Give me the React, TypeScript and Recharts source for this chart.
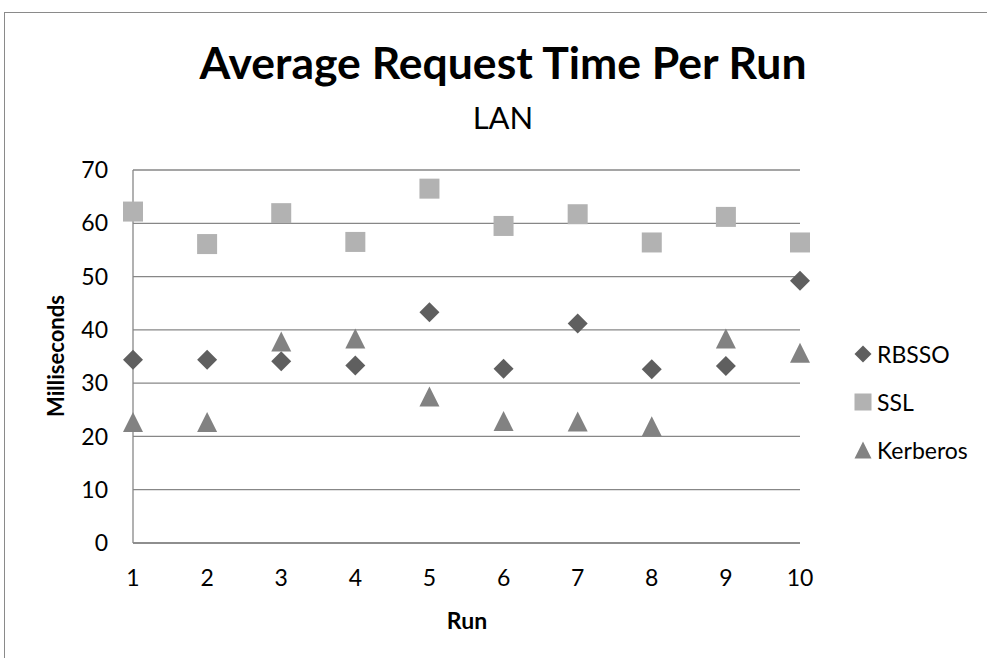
import React from 'react';
import { ScatterChart, Scatter, XAxis, YAxis, CartesianGrid, Legend } from 'recharts';

// values
const runs = [1, 2, 3, 4, 5, 6, 7, 8, 9, 10];
const rbsso = [34.4, 34.4, 34.1, 33.3, 43.3, 32.7, 41.2, 32.6, 33.2, 49.2];
const ssl = [62.2, 56.1, 61.9, 56.5, 66.5, 59.5, 61.7, 56.4, 61.2, 56.4];
const kerberos = [22.7, 22.7, 37.8, 38.4, 27.5, 22.9, 22.8, 21.9, 38.4, 35.7];
const yTicks = [0, 10, 20, 30, 40, 50, 60, 70];

const FONT = 'Lato, "Open Sans", sans-serif';
const GRID = '#878787';
const COLORS = { RBSSO: '#5f5f5f', SSL: '#b2b2b2', Kerberos: '#828282' };

const toPoints = (vals: number[]) => runs.map((run, i) => ({ run, ms: vals[i] }));

const Diamond = ({ cx, cy, r = 10, fill }: any) => (
  <polygon points={`${cx},${cy - r} ${cx + r},${cy} ${cx},${cy + r} ${cx - r},${cy}`} fill={fill} />
);
const Square = ({ cx, cy, r = 10, fill }: any) => (
  <rect x={cx - r} y={cy - r} width={r * 2} height={r * 2} fill={fill} />
);
const Triangle = ({ cx, cy, r = 10, fill }: any) => (
  <polygon points={`${cx},${cy - r} ${cx + r},${cy + r} ${cx - r},${cy + r}`} fill={fill} />
);

const legendItems = [
  { name: 'RBSSO', Icon: Diamond, r: 8.5, color: COLORS.RBSSO },
  { name: 'SSL', Icon: Square, r: 8.5, color: COLORS.SSL },
  { name: 'Kerberos', Icon: Triangle, r: 8.5, color: COLORS.Kerberos },
];

const renderLegend = () => (
  <div style={{ fontFamily: FONT, fontSize: 23, color: '#000' }}>
    {legendItems.map((it) => (
      <div key={it.name} style={{ display: 'flex', alignItems: 'center', height: 48 }}>
        <svg width={22} height={22} style={{ marginRight: 3 }}>
          <it.Icon cx={11} cy={11} r={it.r} fill={it.color} />
        </svg>
        <span>{it.name}</span>
      </div>
    ))}
  </div>
);

export default function App() {
  return (
    <div style={{ position: 'absolute', left: 0, top: 0, width: 987, height: 658, background: '#fff', overflow: 'hidden' }}>
      {/* chart frame, cut off at right and bottom */}
      <div style={{ position: 'absolute', left: 4, top: 12, width: 1000, height: 700, borderLeft: '1.5px solid #8a8a8a', borderTop: '1.5px solid #8a8a8a' }} />
      <div style={{ position: 'absolute', left: 0, width: 1006, top: 62, transform: 'translateY(-50%)', textAlign: 'center', fontFamily: FONT, fontWeight: 700, fontSize: 44.5, color: '#000', lineHeight: 1 }}>
        Average Request Time Per Run
      </div>
      <div style={{ position: 'absolute', left: 0, width: 1006, top: 117, transform: 'translateY(-50%)', textAlign: 'center', fontFamily: FONT, fontSize: 31, color: '#000', lineHeight: 1 }}>
        LAN
      </div>
      <div style={{ position: 'absolute', left: 55, top: 356, transform: 'translate(-50%, -50%) rotate(-90deg)', fontFamily: FONT, fontWeight: 700, fontSize: 22, color: '#000', whiteSpace: 'nowrap' }}>
        Milliseconds
      </div>
      <div style={{ position: 'absolute', left: 467, top: 620, transform: 'translate(-50%, -50%)', fontFamily: FONT, fontWeight: 700, fontSize: 23, color: '#000' }}>
        Run
      </div>
      <div style={{ position: 'absolute', left: 0, top: 0 }}>
        <ScatterChart width={987} height={658} margin={{ top: 170, right: 187, bottom: 55, left: 53 }}>
          <CartesianGrid vertical={false} stroke={GRID} strokeWidth={1.3} />
          <XAxis
            type="number"
            dataKey="run"
            domain={[1, 10]}
            ticks={runs}
            height={60}
            tickLine={false}
            tickSize={0}
            tickMargin={27}
            axisLine={{ stroke: GRID, strokeWidth: 1.3 }}
            tick={{ fill: '#000', fontFamily: FONT, fontSize: 23 }}
          />
          <YAxis
            type="number"
            dataKey="ms"
            domain={[0, 70]}
            ticks={yTicks}
            width={80}
            tickLine={false}
            tickSize={0}
            tickMargin={25}
            axisLine={{ stroke: GRID, strokeWidth: 1.3 }}
            tick={{ fill: '#000', fontFamily: FONT, fontSize: 23 }}
          />
          <Legend
            layout="vertical"
            align="center"
            verticalAlign="middle"
            content={renderLegend}
            wrapperStyle={{ left: 852, top: 330, width: 130 }}
          />
          <Scatter name="RBSSO" data={toPoints(rbsso)} fill={COLORS.RBSSO} shape={<Diamond r={10} />} isAnimationActive={false} />
          <Scatter name="SSL" data={toPoints(ssl)} fill={COLORS.SSL} shape={<Square r={10} />} isAnimationActive={false} />
          <Scatter name="Kerberos" data={toPoints(kerberos)} fill={COLORS.Kerberos} shape={<Triangle r={10} />} isAnimationActive={false} />
        </ScatterChart>
      </div>
    </div>
  );
}
